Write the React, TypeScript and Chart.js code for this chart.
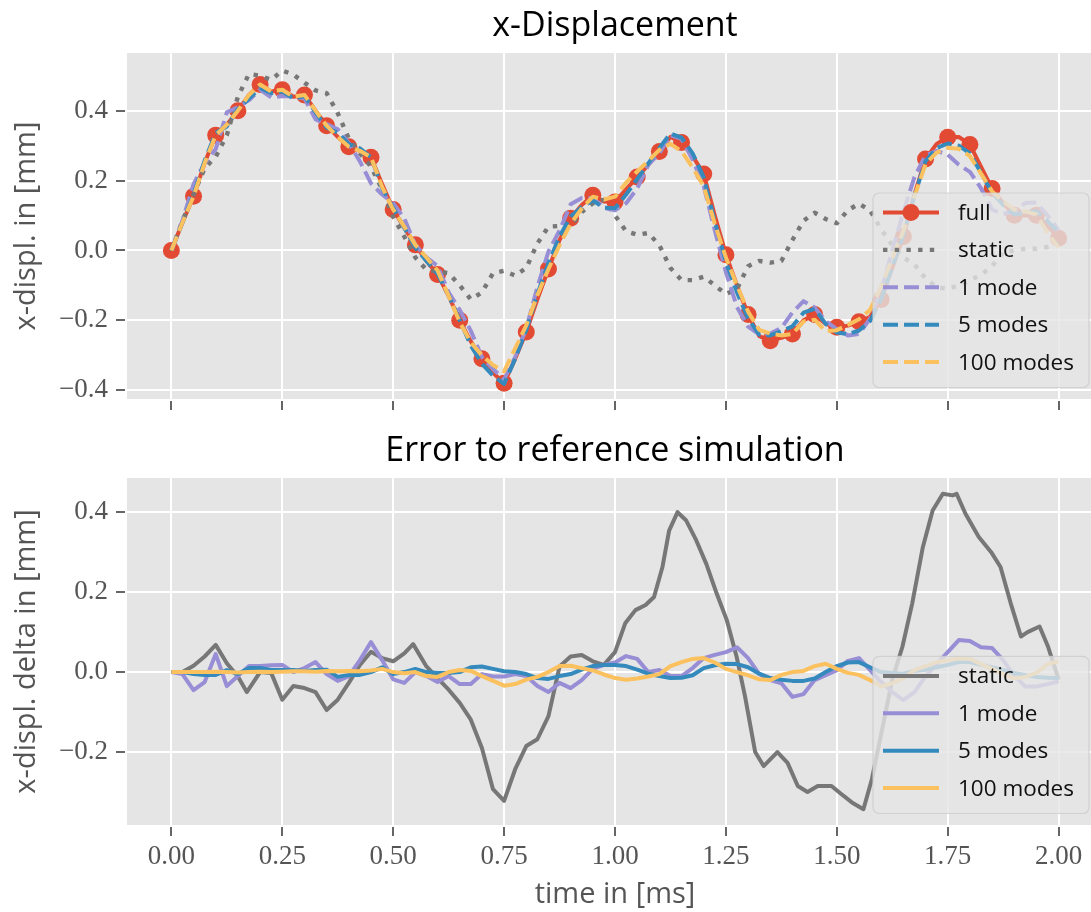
import { useEffect, useRef } from 'react';
import { Chart, registerables } from 'chart.js';

Chart.register(...registerables);

const SANS = "'Open Sans', 'DejaVu Sans', sans-serif";
const SERIF = "'Liberation Serif', 'DejaVu Serif', serif";

// ---------- data ----------
const timeGrid = [
  0, 0.025, 0.05, 0.075, 0.1, 0.125, 0.15, 0.175, 0.2, 0.225,
  0.25, 0.275, 0.3, 0.325, 0.35, 0.375, 0.4, 0.425, 0.45, 0.475,
  0.5, 0.525, 0.55, 0.575, 0.6, 0.625, 0.65, 0.675, 0.7, 0.725,
  0.75, 0.775, 0.8, 0.825, 0.85, 0.875, 0.9, 0.925, 0.95, 0.975,
  1.0, 1.025, 1.05, 1.075, 1.1, 1.125, 1.15, 1.175, 1.2, 1.225,
  1.25, 1.275, 1.3, 1.325, 1.35, 1.375, 1.4, 1.425, 1.45, 1.475,
  1.5, 1.525, 1.55, 1.575, 1.6, 1.625, 1.65, 1.675, 1.7, 1.725,
  1.75, 1.775, 1.8, 1.825, 1.85, 1.875, 1.9, 1.925, 1.95, 1.975,
  2.0,
];

const fullDispl = [
  0, 0.08, 0.155, 0.25, 0.33, 0.36, 0.40, 0.445, 0.475, 0.455,
  0.46, 0.44, 0.445, 0.40, 0.357, 0.325, 0.297, 0.285, 0.267, 0.19,
  0.117, 0.065, 0.016, -0.03, -0.069, -0.13, -0.2, -0.26, -0.31, -0.35,
  -0.38, -0.31, -0.233, -0.14, -0.053, 0.03, 0.092, 0.13, 0.158, 0.14,
  0.139, 0.175, 0.21, 0.245, 0.283, 0.325, 0.309, 0.27, 0.219, 0.1,
  -0.012, -0.1, -0.183, -0.245, -0.258, -0.25, -0.239, -0.2, -0.183, -0.21,
  -0.22, -0.215, -0.204, -0.19, -0.14, -0.05, 0.04, 0.16, 0.262, 0.305,
  0.324, 0.325, 0.303, 0.24, 0.177, 0.135, 0.101, 0.10, 0.101, 0.07,
  0.035,
];

const staticDispl = [
  0, 0.085, 0.16, 0.235, 0.268, 0.33, 0.44, 0.505, 0.50, 0.488,
  0.515, 0.503, 0.48, 0.458, 0.45, 0.393, 0.32, 0.278, 0.24, 0.175,
  0.096, 0.04, -0.02, -0.055, -0.06, -0.065, -0.1, -0.14, -0.12, -0.065,
  -0.058, -0.072, -0.05, 0.02, 0.068, 0.07, 0.07, 0.11, 0.135, 0.145,
  0.10, 0.055, 0.045, 0.05, 0.015, -0.05, -0.085, -0.085, -0.075, -0.1,
  -0.125, -0.11, -0.045, -0.03, -0.035, -0.03, 0.03, 0.085, 0.108, 0.09,
  0.078, 0.115, 0.134, 0.115, 0.06, 0.015, -0.02, -0.04, -0.08, -0.105,
  -0.11, -0.1, -0.085, -0.07, -0.045, -0.005, 0.0, 0.005, 0.005, 0.01,
  0.02,
];

const mode1Displ = [
  0, 0.085, 0.19, 0.25, 0.29, 0.395, 0.41, 0.43, 0.46, 0.438,
  0.442, 0.44, 0.435, 0.375, 0.362, 0.347, 0.307, 0.255, 0.192, 0.16,
  0.135, 0.092, 0.016, -0.02, -0.044, -0.12, -0.17, -0.23, -0.305, -0.339,
  -0.369, -0.305, -0.223, -0.105, -0.003, 0.057, 0.132, 0.15, 0.15, 0.122,
  0.115, 0.135, 0.177, 0.245, 0.278, 0.33, 0.319, 0.26, 0.184, 0.057,
  -0.062, -0.162, -0.218, -0.24, -0.238, -0.222, -0.177, -0.145, -0.163, -0.202,
  -0.225, -0.243, -0.239, -0.195, -0.115, 0.0, 0.11, 0.21, 0.272, 0.285,
  0.274, 0.245, 0.225, 0.178, 0.117, 0.105, 0.111, 0.136, 0.137, 0.1,
  0.058,
];

const mode5Displ = [
  0, 0.08, 0.16, 0.257, 0.337, 0.355, 0.405, 0.435, 0.465, 0.45,
  0.455, 0.435, 0.442, 0.395, 0.351, 0.337, 0.304, 0.292, 0.267, 0.178,
  0.122, 0.065, 0.008, -0.03, -0.067, -0.128, -0.2, -0.272, -0.324, -0.358,
  -0.382, -0.31, -0.228, -0.125, -0.036, 0.04, 0.097, 0.124, 0.143, 0.122,
  0.121, 0.16, 0.204, 0.249, 0.293, 0.335, 0.323, 0.278, 0.209, 0.083,
  -0.033, -0.12, -0.195, -0.241, -0.243, -0.231, -0.217, -0.178, -0.167, -0.21,
  -0.235, -0.239, -0.229, -0.202, -0.14, -0.048, 0.044, 0.157, 0.256, 0.293,
  0.306, 0.3, 0.278, 0.222, 0.165, 0.13, 0.103, 0.108, 0.113, 0.084,
  0.05,
];

const mode100Displ = [
  0, 0.08, 0.155, 0.25, 0.33, 0.36, 0.40, 0.445, 0.475, 0.455,
  0.46, 0.44, 0.445, 0.40, 0.357, 0.325, 0.297, 0.285, 0.267, 0.182,
  0.117, 0.068, 0.016, -0.02, -0.057, -0.13, -0.205, -0.263, -0.3, -0.328,
  -0.346, -0.28, -0.214, -0.128, -0.053, 0.015, 0.076, 0.12, 0.154, 0.146,
  0.154, 0.194, 0.226, 0.256, 0.288, 0.305, 0.284, 0.237, 0.184, 0.076,
  -0.02, -0.1, -0.175, -0.227, -0.238, -0.243, -0.239, -0.203, -0.198, -0.231,
  -0.228, -0.213, -0.197, -0.17, -0.104, -0.022, 0.055, 0.155, 0.247, 0.28,
  0.294, 0.291, 0.27, 0.22, 0.169, 0.14, 0.117, 0.112, 0.103, 0.05,
  0.008,
];

const staticErrT = [
  0, 0.025, 0.05, 0.075, 0.1, 0.125, 0.15, 0.17, 0.2, 0.225,
  0.25, 0.275, 0.3, 0.325, 0.35, 0.375, 0.4, 0.425, 0.45, 0.475,
  0.5, 0.525, 0.545, 0.575, 0.6, 0.625, 0.65, 0.675, 0.7, 0.725,
  0.75, 0.775, 0.8, 0.825, 0.85, 0.875, 0.9, 0.925, 0.95, 0.975,
  1.0, 1.023, 1.046, 1.069, 1.088, 1.107, 1.122, 1.141, 1.16, 1.183,
  1.206, 1.229, 1.252, 1.274, 1.293, 1.316, 1.335, 1.366, 1.389, 1.412,
  1.434, 1.457, 1.488, 1.51, 1.534, 1.56, 1.579, 1.602, 1.625, 1.648,
  1.67, 1.694, 1.716, 1.739, 1.761, 1.77, 1.79, 1.82, 1.848, 1.869,
  1.892, 1.915, 1.93, 1.957, 1.976, 2.0,
];
const staticErrV = [
  0, 0, 0.016, 0.039, 0.068, 0.022, -0.011, -0.05, 0.0, -0.002,
  -0.069, -0.035, -0.04, -0.05, -0.095, -0.069, -0.027, 0.018, 0.051, 0.035,
  0.027, 0.047, 0.07, 0.014, -0.015, -0.044, -0.077, -0.119, -0.19, -0.293,
  -0.322, -0.243, -0.185, -0.168, -0.11, 0.014, 0.039, 0.043, 0.027, 0.018,
  0.05, 0.122, 0.155, 0.168, 0.188, 0.263, 0.354, 0.40, 0.38, 0.33,
  0.27, 0.197, 0.13, 0.039, -0.06, -0.2, -0.235, -0.2, -0.227, -0.285,
  -0.30, -0.285, -0.285, -0.305, -0.326, -0.343, -0.268, -0.144, -0.019, 0.064,
  0.172, 0.313, 0.404, 0.446, 0.442, 0.446, 0.396, 0.338, 0.30, 0.263,
  0.172, 0.089, 0.10, 0.114, 0.064, -0.019,
];

const mode1Err = [
  0, -0.005, -0.045, -0.025, 0.045, -0.035, -0.01, 0.015, 0.015, 0.017,
  0.018, 0.0, 0.01, 0.025, -0.005, -0.022, -0.01, 0.03, 0.075, 0.03,
  -0.018, -0.027, 0.0, -0.01, -0.025, -0.01, -0.03, -0.03, -0.005, -0.011,
  -0.011, -0.005, -0.01, -0.035, -0.05, -0.027, -0.04, -0.02, 0.008, 0.018,
  0.024, 0.04, 0.033, 0.0, 0.005, -0.01, -0.01, 0.01, 0.035, 0.043,
  0.05, 0.062, 0.035, -0.005, -0.02, -0.028, -0.062, -0.055, -0.02, -0.008,
  0.005, 0.028, 0.035, 0.005, -0.025, -0.05, -0.07, -0.05, -0.01, 0.02,
  0.05, 0.08, 0.078, 0.062, 0.06, 0.03, -0.01, -0.036, -0.036, -0.03,
  -0.023,
];

const mode5Err = [
  0, 0, -0.005, -0.007, -0.007, 0.005, -0.005, 0.01, 0.01, 0.005,
  0.005, 0.005, 0.003, 0.005, 0.006, -0.012, -0.007, -0.007, 0.0, 0.012,
  -0.005, 0.0, 0.008, 0.0, -0.002, -0.002, 0.0, 0.012, 0.014, 0.008,
  0.002, 0.0, -0.005, -0.015, -0.017, -0.01, -0.005, 0.006, 0.015, 0.018,
  0.018, 0.015, 0.006, -0.004, -0.01, -0.015, -0.014, -0.008, 0.01, 0.017,
  0.021, 0.02, 0.012, -0.004, -0.015, -0.019, -0.022, -0.022, -0.016, 0.0,
  0.015, 0.024, 0.025, 0.012, 0.0, -0.002, -0.004, 0.003, 0.006, 0.012,
  0.018, 0.025, 0.025, 0.018, 0.012, 0.005, -0.002, -0.008, -0.012, -0.014,
  -0.015,
];

const mode100Err = [
  0, 0, 0, 0, 0.001, 0, -0.001, 0, 0.001, 0,
  0.001, 0.002, 0.002, 0.001, 0.003, 0.002, 0.003, 0.002, 0.004, 0.008,
  0.0, -0.003, 0.0, -0.01, -0.012, 0.0, 0.005, 0.003, -0.01, -0.022,
  -0.034, -0.03, -0.019, -0.012, 0.0, 0.015, 0.016, 0.01, 0.004, -0.006,
  -0.015, -0.019, -0.016, -0.011, -0.005, 0.015, 0.025, 0.033, 0.035, 0.024,
  0.008, 0.0, -0.008, -0.018, -0.02, -0.007, 0.0, 0.003, 0.015, 0.021,
  0.008, -0.002, -0.007, -0.02, -0.036, -0.028, -0.015, 0.005, 0.015, 0.025,
  0.03, 0.034, 0.033, 0.02, 0.008, -0.005, -0.016, -0.012, -0.002, 0.02,
  0.027,
];

const xTickValues = [0, 0.25, 0.5, 0.75, 1.0, 1.25, 1.5, 1.75, 2.0];
const xTickLabels = ['0.00', '0.25', '0.50', '0.75', '1.00', '1.25', '1.50', '1.75', '2.00'];
const topYTickValues = [-0.4, -0.2, 0, 0.2, 0.4];
const topYTickLabels = ['\u22120.4', '\u22120.2', '0.0', '0.2', '0.4'];
const botYTickValues = [-0.2, 0, 0.2, 0.4];
const botYTickLabels = ['\u22120.2', '0.0', '0.2', '0.4'];

// ---------- colours ----------
const RED = '#E24A33';
const GRAY = '#777777';
const PURPLE = '#988ED5';
const BLUE = '#348ABD';
const YELLOW = '#FBC15E';

const pairs = (xs: number[], ys: number[]) => xs.map((x, i) => ({ x, y: ys[i] }));

function roundRectPath(ctx: CanvasRenderingContext2D, x: number, y: number, w: number, h: number, r: number) {
  ctx.beginPath();
  ctx.moveTo(x + r, y);
  ctx.lineTo(x + w - r, y);
  ctx.arcTo(x + w, y, x + w, y + r, r);
  ctx.lineTo(x + w, y + h - r);
  ctx.arcTo(x + w, y + h, x + w - r, y + h, r);
  ctx.lineTo(x + r, y + h);
  ctx.arcTo(x, y + h, x, y + h - r, r);
  ctx.lineTo(x, y + r);
  ctx.arcTo(x, y, x + r, y, r);
  ctx.closePath();
}

const ggPlugin = {
  id: 'ggStyle',
  beforeDraw(chart: any) {
    const { ctx, chartArea: a } = chart;
    ctx.save();
    ctx.fillStyle = '#E5E5E5';
    ctx.fillRect(a.left, a.top, a.right - a.left, a.bottom - a.top);
    ctx.restore();
  },
  afterDatasetsDraw(chart: any) {
    const { ctx, chartArea: a } = chart;
    const dss = chart.data.datasets;
    const n = dss.length;
    const rowH = 37.4;
    const w = 216;
    const h = n * rowH + 7.5;
    const right = a.right - 14;
    const bottom = a.bottom - 11.5;
    const left = right - w;
    const top = bottom - h;
    ctx.save();
    roundRectPath(ctx, left, top, w, h, 6);
    ctx.fillStyle = 'rgba(229,229,229,0.8)';
    ctx.fill();
    ctx.strokeStyle = 'rgba(204,204,204,0.8)';
    ctx.lineWidth = 1.2;
    ctx.stroke();
    dss.forEach((ds: any, i: number) => {
      const cy = top + 19.5 + i * rowH;
      ctx.beginPath();
      ctx.setLineDash(ds.borderDash || []);
      ctx.lineDashOffset = 0;
      ctx.lineCap = 'butt';
      ctx.strokeStyle = ds.borderColor;
      ctx.lineWidth = ds.borderWidth;
      ctx.moveTo(left + 10, cy);
      ctx.lineTo(left + 66, cy);
      ctx.stroke();
      ctx.setLineDash([]);
      if (ds.legendMarker) {
        ctx.beginPath();
        ctx.arc(left + 38, cy, ds.legendMarker, 0, Math.PI * 2);
        ctx.fillStyle = ds.borderColor;
        ctx.fill();
      }
      ctx.fillStyle = '#111111';
      ctx.font = `22.5px ${SANS}`;
      ctx.textBaseline = 'middle';
      ctx.textAlign = 'left';
      ctx.fillText(ds.label, left + 85, cy + 1);
    });
    ctx.restore();
  },
  afterDraw(chart: any) {
    const { ctx, chartArea: a, scales } = chart;
    ctx.save();
    ctx.strokeStyle = '#555555';
    ctx.lineWidth = 1.8;
    const xs = scales.x;
    xs.ticks.forEach((t: any) => {
      const p = Math.round(xs.getPixelForValue(t.value));
      ctx.beginPath();
      ctx.moveTo(p, a.bottom + 2);
      ctx.lineTo(p, a.bottom + 11);
      ctx.stroke();
    });
    const ys = scales.y;
    ys.ticks.forEach((t: any) => {
      const p = Math.round(ys.getPixelForValue(t.value));
      ctx.beginPath();
      ctx.moveTo(a.left - 11, p);
      ctx.lineTo(a.left - 2, p);
      ctx.stroke();
    });
    const title = chart.options.plugins.ggTitle?.text;
    if (title) {
      ctx.fillStyle = '#000000';
      ctx.font = `34px ${SANS}`;
      ctx.textAlign = 'center';
      ctx.textBaseline = 'alphabetic';
      ctx.fillText(title, (a.left + a.right) / 2, a.top - 17);
    }
    ctx.restore();
  },
};

function makeOptions(opts: {
  title: string;
  yLabel: string;
  yMin: number;
  yMax: number;
  yTicks: number[];
  yLabels: string[];
  padTop: number;
  xHeight: number;
  showX: boolean;
}) {
  const grid = { color: '#FFFFFF', lineWidth: 2, drawTicks: false };
  return {
    animation: false,
    responsive: false,
    maintainAspectRatio: false,
    events: [],
    layout: { padding: { left: 0, top: opts.padTop, right: 17, bottom: 0 } },
    plugins: {
      legend: { display: false },
      tooltip: { enabled: false },
      title: { display: false },
      ggTitle: { text: opts.title },
    },
    elements: { line: { tension: 0 } },
    scales: {
      x: {
        type: 'linear',
        min: -0.1,
        max: 2.1,
        afterBuildTicks: (s: any) => {
          s.ticks = xTickValues.map((v) => ({ value: v }));
        },
        afterFit: (s: any) => {
          s.height = opts.xHeight;
          s.paddingLeft = 0;
          s.paddingRight = 0;
          s.paddingTop = 0;
          s.paddingBottom = 0;
        },
        grid,
        border: { display: false },
        ticks: {
          display: opts.showX,
          autoSkip: false,
          maxRotation: 0,
          padding: 16,
          color: '#555555',
          font: { family: SERIF, size: 27 },
          callback: (_v: any, i: number) => xTickLabels[i],
        },
        title: {
          display: opts.showX,
          text: 'time in [ms]',
          color: '#555555',
          font: { family: SANS, size: 29 },
          padding: { top: 0, bottom: 0 },
        },
      },
      y: {
        type: 'linear',
        min: opts.yMin,
        max: opts.yMax,
        afterBuildTicks: (s: any) => {
          s.ticks = opts.yTicks.map((v) => ({ value: v }));
        },
        afterFit: (s: any) => {
          s.width = 127;
          s.paddingTop = 0;
          s.paddingBottom = 0;
          s.paddingLeft = 0;
          s.paddingRight = 0;
        },
        grid,
        border: { display: false },
        ticks: {
          autoSkip: false,
          padding: 19,
          color: '#555555',
          font: { family: SERIF, size: 27 },
          callback: (_v: any, i: number) => opts.yLabels[i],
        },
        title: {
          display: true,
          text: opts.yLabel,
          color: '#555555',
          font: { family: SANS, size: 29 },
          padding: { top: 9, bottom: 0 },
        },
      },
    },
  };
}

const lineBase = {
  fill: false,
  pointRadius: 0,
  borderWidth: 4,
  borderCapStyle: 'butt',
  borderJoinStyle: 'round',
};

export default function App() {
  const topRef = useRef<HTMLCanvasElement>(null);
  const botRef = useRef<HTMLCanvasElement>(null);

  useEffect(() => {
    const topChart = new Chart(topRef.current as HTMLCanvasElement, {
      type: 'line',
      data: {
        datasets: [
          {
            ...lineBase,
            label: 'full',
            data: pairs(timeGrid, fullDispl),
            borderColor: RED,
            pointBackgroundColor: RED,
            pointBorderWidth: 0,
            pointRadius: (c: any) => (c.dataIndex % 2 === 0 ? 8.5 : 0),
            legendMarker: 8.5,
            order: 5,
          },
          {
            ...lineBase,
            label: 'static',
            data: pairs(timeGrid, staticDispl),
            borderColor: GRAY,
            borderWidth: 4.4,
            borderDash: [4.4, 7.3],
            order: 4,
          },
          {
            ...lineBase,
            label: '1 mode',
            data: pairs(timeGrid, mode1Displ),
            borderColor: PURPLE,
            borderDash: [15, 6],
            order: 3,
          },
          {
            ...lineBase,
            label: '5 modes',
            data: pairs(timeGrid, mode5Displ),
            borderColor: BLUE,
            borderDash: [15, 6],
            order: 2,
          },
          {
            ...lineBase,
            label: '100 modes',
            data: pairs(timeGrid, mode100Displ),
            borderColor: YELLOW,
            borderDash: [15, 6],
            order: 1,
          },
        ] as any,
      },
      options: makeOptions({
        title: 'x-Displacement',
        yLabel: 'x-displ. in [mm]',
        yMin: -0.425,
        yMax: 0.565,
        yTicks: topYTickValues,
        yLabels: topYTickLabels,
        padTop: 53,
        xHeight: 31,
        showX: false,
      }) as any,
      plugins: [ggPlugin],
    });

    const botChart = new Chart(botRef.current as HTMLCanvasElement, {
      type: 'line',
      data: {
        datasets: [
          {
            ...lineBase,
            label: 'static',
            data: pairs(staticErrT, staticErrV),
            borderColor: GRAY,
            order: 4,
          },
          {
            ...lineBase,
            label: '1 mode',
            data: pairs(timeGrid, mode1Err),
            borderColor: PURPLE,
            order: 3,
          },
          {
            ...lineBase,
            label: '5 modes',
            data: pairs(timeGrid, mode5Err),
            borderColor: BLUE,
            order: 2,
          },
          {
            ...lineBase,
            label: '100 modes',
            data: pairs(timeGrid, mode100Err),
            borderColor: YELLOW,
            order: 1,
          },
        ] as any,
      },
      options: makeOptions({
        title: 'Error to reference simulation',
        yLabel: 'x-displ. delta in [mm]',
        yMin: -0.3825,
        yMax: 0.4855,
        yTicks: botYTickValues,
        yLabels: botYTickLabels,
        padTop: 48,
        xHeight: 87,
        showX: true,
      }) as any,
      plugins: [ggPlugin],
    });

    return () => {
      topChart.destroy();
      botChart.destroy();
    };
  }, []);

  return (
    <div
      style={{
        position: 'fixed',
        left: 0,
        top: 0,
        width: 1091,
        height: 912,
        overflow: 'hidden',
        background: '#FFFFFF',
      }}
    >
      <canvas ref={topRef} width={1120} height={430} style={{ position: 'absolute', left: 0, top: 0 }} />
      <canvas ref={botRef} width={1120} height={482} style={{ position: 'absolute', left: 0, top: 430 }} />
    </div>
  );
}
